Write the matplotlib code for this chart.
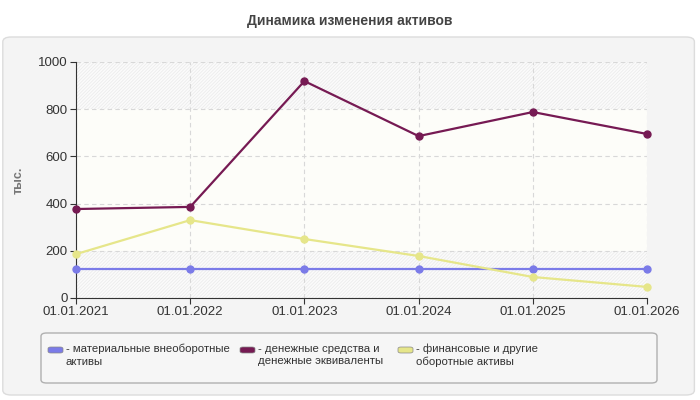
import matplotlib.pyplot as plt
from matplotlib.patches import FancyBboxPatch, Rectangle

plt.rcParams['font.family'] = ['Liberation Sans', 'DejaVu Sans']
plt.rcParams['hatch.linewidth'] = 0.6

dates = ["01.01.2021", "01.01.2022", "01.01.2023", "01.01.2024", "01.01.2025", "01.01.2026"]
material = [123, 123, 123, 123, 123, 123]
cash = [377, 386, 919, 686, 788, 695]
financial = [186, 330, 250, 178, 89, 47]

names = ["- материальные внеоборотные\nактивы",
         "- денежные средства и\nденежные эквиваленты",
         "- финансовые и другие\nоборотные активы"]
colors = ["#7b7be8", "#761a53", "#e6e68a"]

fig = plt.figure(figsize=(7, 4), dpi=100)
fig.patch.set_facecolor("white")

# outer grey panel
panel = FancyBboxPatch((0.004, 0.0125), 0.988, 0.895, boxstyle="round,pad=0,rounding_size=0.012",
                       transform=fig.transFigure, facecolor="#f4f4f4", edgecolor="#dcdcdc",
                       linewidth=1, zorder=-5)
fig.patches.append(panel)

fig.text(0.5, 0.948, "Динамика изменения активов", ha="center", va="center",
         fontsize=10, fontweight="bold", color="#444444")

ax = fig.add_axes([0.1086, 0.255, 0.8157, 0.59])
ax.set_facecolor("#fbfbfb")
x = list(range(len(dates)))

ax.add_patch(Rectangle((0, 0), 1, 1, transform=ax.transAxes, facecolor="none",
                       edgecolor="#ececec", hatch="//////////", linewidth=0, zorder=0))
ax.axhspan(200, 800, facecolor="#fdfdf9", zorder=0.5)

series = [material, cash, financial]
for vals, c in zip(series, colors):
    ax.plot(x, vals, color=c, linewidth=1.6, marker="o", markersize=5, zorder=3, clip_on=False)

ax.set_xlim(0, len(dates) - 1)
ax.set_ylim(0, 1000)
ax.set_xticks(x)
ax.set_xticklabels(dates)
ax.set_yticks([0, 200, 400, 600, 800, 1000])
ax.tick_params(labelsize=9.5, colors="#333333", length=4, pad=2)
ax.grid(True, linestyle=(0, (4, 3)), color="#d8d8d8", linewidth=0.8, zorder=1)
ax.set_axisbelow(True)
for s in ["top", "right"]:
    ax.spines[s].set_visible(False)
for s in ["left", "bottom"]:
    ax.spines[s].set_color("#333333")
ax.set_ylabel("тыс.", fontsize=9, color="#777777", fontweight="bold", labelpad=10)

# legend box
leg = FancyBboxPatch((41 / 700, 1 - 383 / 400), 616 / 700, 50 / 400,
                     boxstyle="round,pad=0,rounding_size=0.008", transform=fig.transFigure,
                     facecolor="#f6f6f6", edgecolor="#b0b0b0", linewidth=1)
fig.patches.append(leg)
xs = [48, 240, 398]
for px, name, c in zip(xs, names, colors):
    fig.patches.append(FancyBboxPatch((px / 700, 1 - 353 / 400), 15 / 700, 6 / 400,
                                      boxstyle="round,pad=0,rounding_size=0.004",
                                      transform=fig.transFigure, facecolor=c,
                                      edgecolor="#888888", linewidth=0.5))
    fig.text((px + 18) / 700, 1 - 344 / 400, name, ha="left", va="top", fontsize=8.2,
             color="#333333", linespacing=1.3)

fig.savefig("out.png", dpi=100)
